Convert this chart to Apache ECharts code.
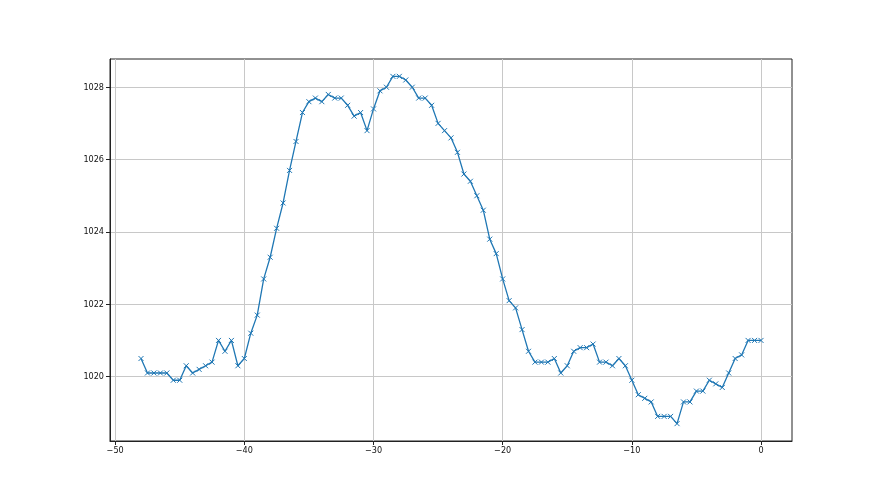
<!DOCTYPE html>
<html>
<head>
<meta charset="utf-8">
<script src="https://cdn.jsdelivr.net/npm/echarts@6/dist/echarts.min.js"></script>
<style>html,body{margin:0;padding:0;background:#fff}#c{width:880px;height:495px}</style>
</head>
<body>
<div id="c"></div>
<script>
const hours = [];
for (let i = 0; i <= 96; i++) hours.push(-48 + i * 0.5);
const pressure = [
 1020.5,1020.1,1020.1,1020.1,1020.1,1019.9,1019.9,1020.3,1020.1,1020.2,
 1020.3,1020.4,1021.0,1020.7,1021.0,1020.3,1020.5,1021.2,1021.7,1022.7,
 1023.3,1024.1,1024.8,1025.7,1026.5,1027.3,1027.6,1027.7,1027.6,1027.8,
 1027.7,1027.7,1027.5,1027.2,1027.3,1026.8,1027.4,1027.9,1028.0,1028.3,
 1028.3,1028.2,1028.0,1027.7,1027.7,1027.5,1027.0,1026.8,1026.6,1026.2,
 1025.6,1025.4,1025.0,1024.6,1023.8,1023.4,1022.7,1022.1,1021.9,1021.3,
 1020.7,1020.4,1020.4,1020.4,1020.5,1020.1,1020.3,1020.7,1020.8,1020.8,
 1020.9,1020.4,1020.4,1020.3,1020.5,1020.3,1019.9,1019.5,1019.4,1019.3,
 1018.9,1018.9,1018.9,1018.7,1019.3,1019.3,1019.6,1019.6,1019.9,1019.8,
 1019.7,1020.1,1020.5,1020.6,1021.0,1021.0,1021.0
];
const xTicks = [-50, -40, -30, -20, -10, 0];
const yTicks = [1020, 1022, 1024, 1026, 1028];

const chart = echarts.init(document.getElementById('c'));
const font = '"DejaVu Sans Condensed", "DejaVu Sans", sans-serif';
chart.setOption({
  animation: false,
  backgroundColor: '#fff',
  grid: { left: 110, right: 88, top: 59, bottom: 54, show: true, borderColor: '#222', borderWidth: 1, containLabel: false },
  xAxis: {
    type: 'value', min: -50.4, max: 2.4,
    axisLine: { show: true, onZero: false, lineStyle: { color: '#222', width: 1 } },
    axisTick: { show: true, length: 4, customValues: xTicks, lineStyle: { color: '#222' } },
    axisLabel: { customValues: xTicks, color: '#111', fontFamily: font, fontSize: 9, margin: 5,
      formatter: v => String(v).replace('-', '\u2212') },
    splitLine: { show: true, customValues: xTicks, lineStyle: { color: '#c8c8c8', width: 1 } }
  },
  yAxis: {
    type: 'value', min: 1018.22, max: 1028.78,
    axisLine: { show: true, onZero: false, lineStyle: { color: '#222', width: 1 } },
    axisTick: { show: true, length: 4, customValues: yTicks, lineStyle: { color: '#222' } },
    axisLabel: { customValues: yTicks, color: '#111', fontFamily: font, fontSize: 9, margin: 6,
      formatter: v => String(v) },
    splitLine: { show: true, customValues: yTicks, lineStyle: { color: '#c8c8c8', width: 1 } }
  },
  series: [{
    type: 'line',
    data: hours.map((h, i) => [h, pressure[i]]),
    lineStyle: { color: '#1f77b4', width: 1.3 },
    symbol: 'path://M0,0L10,10M10,0L0,10',
    symbolSize: 5,
    showAllSymbol: true,
    itemStyle: { color: 'rgba(0,0,0,0)', borderColor: '#1f77b4', borderWidth: 1 }
  }]
});
</script>
</body>
</html>
